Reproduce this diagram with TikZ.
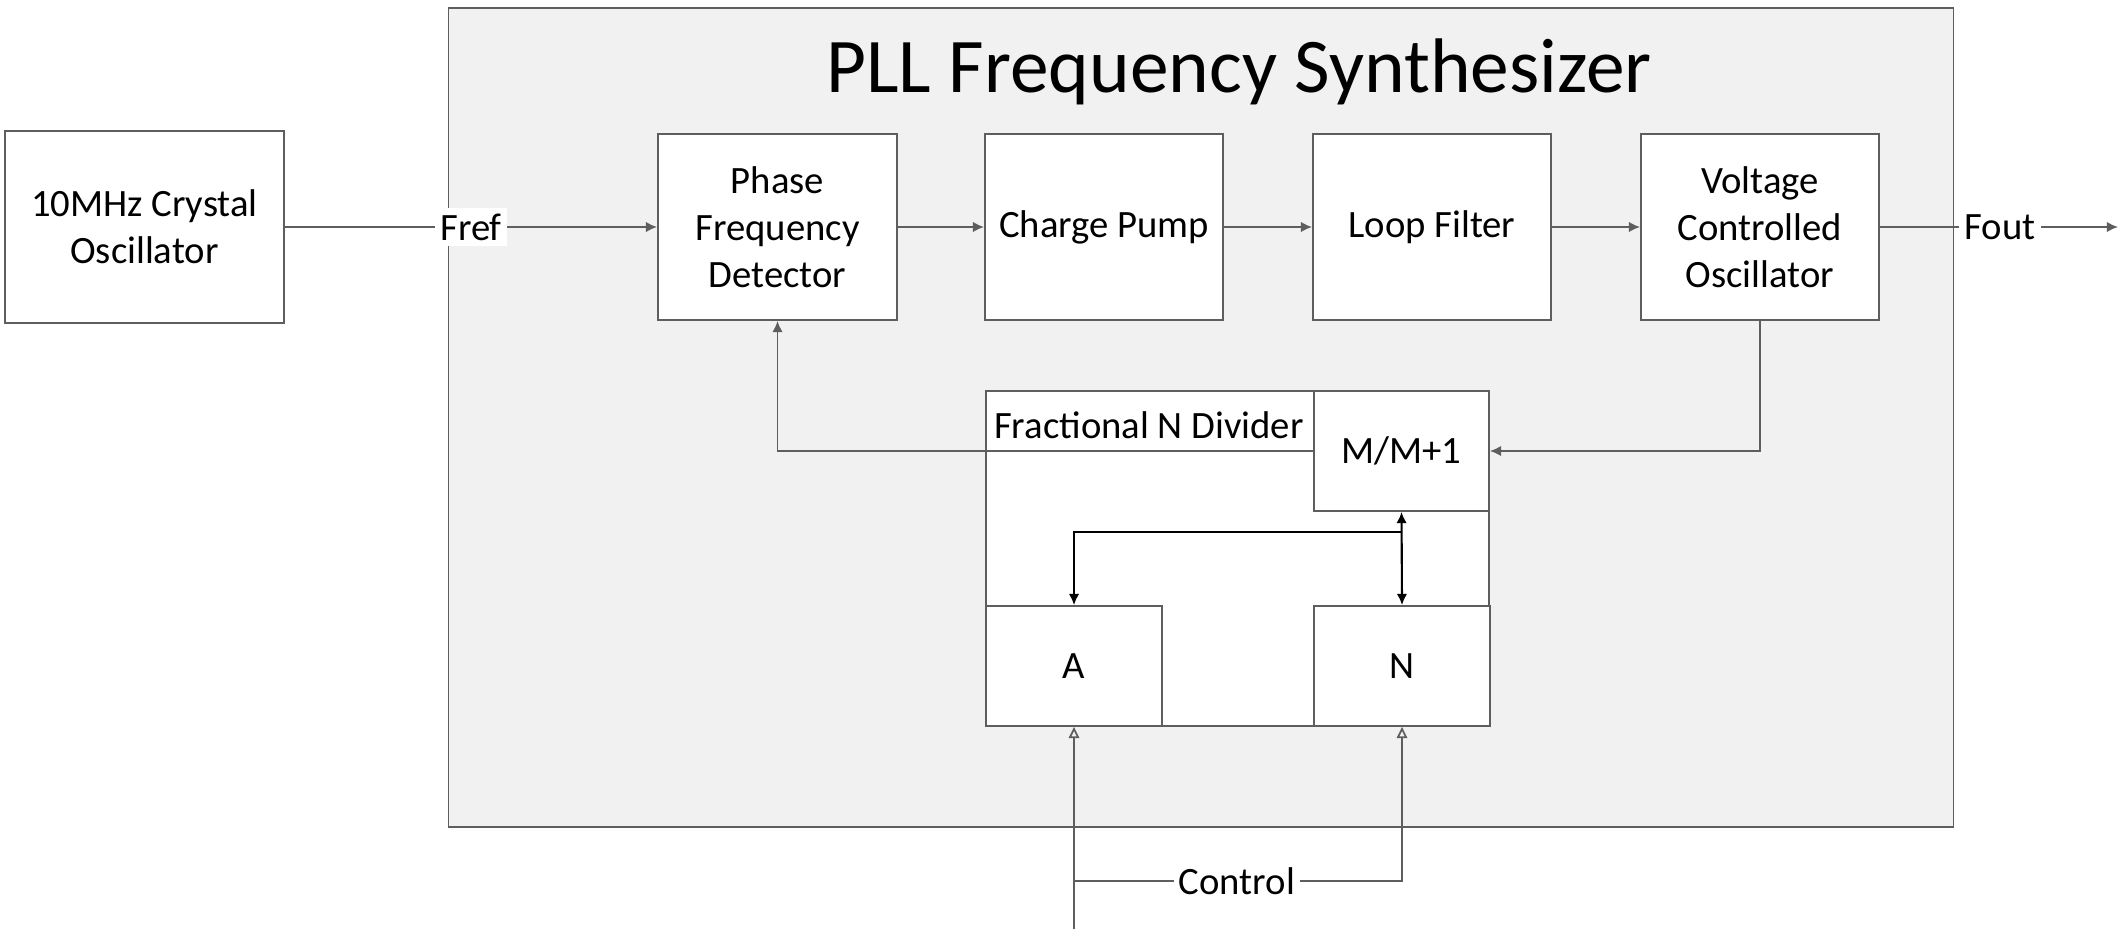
\documentclass[tikz,border=0pt]{standalone}
\usepackage{fontspec}
\setmainfont{Carlito}
\usetikzlibrary{arrows.meta}
\definecolor{linegray}{HTML}{5E5E5E}
\definecolor{panelgray}{HTML}{F1F1F1}
\tikzset{
  blk/.style={draw=linegray, fill=white, line width=0.5pt, align=center,
    font=\fontsize{11}{13.4}\selectfont, inner sep=0pt},
  conn/.style={draw=linegray, line width=0.5pt},
  arr/.style={conn, -{Latex[length=3.2pt,width=3pt]}},
  darr/.style={draw=black, line width=0.6pt, {Latex[length=3.2pt,width=3pt]}-{Latex[length=3.2pt,width=3pt]}},
  barr/.style={draw=black, line width=0.6pt, -{Latex[length=3.2pt,width=3pt]}},
  oarr/.style={conn, -{Triangle[open,length=3.2pt,width=3pt]}},
  lbl/.style={font=\fontsize{11}{13.4}\selectfont, inner sep=1.5pt, fill=white},
}
\begin{document}
\begin{tikzpicture}[x=0.01cm, y=-0.01cm]
\useasboundingbox (0,0) rectangle (2125,930);
% panel
\node[draw=linegray, fill=panelgray, line width=0.5pt, minimum width=15.04cm, minimum height=8.19cm, inner sep=0pt] (panel) at (1201,417.5) {};
\node[font=\fontsize{22}{26}\selectfont, anchor=base, inner sep=0pt] (title) at (1239,92) {PLL Frequency Synthesizer};
% blocks
\node[blk, minimum width=2.79cm, minimum height=1.92cm] (xo) at (144.5,227) {10MHz Crystal\\Oscillator};
\node[blk, minimum width=2.39cm, minimum height=1.86cm] (pfd) at (777.5,227) {Phase\\Frequency\\Detector};
\node[blk, minimum width=2.38cm, minimum height=1.86cm] (cp) at (1104,227) {Charge Pump};
\node[blk, minimum width=2.38cm, minimum height=1.86cm] (lf) at (1432,227) {Loop Filter};
\node[blk, minimum width=2.38cm, minimum height=1.86cm] (vco) at (1760,227) {Voltage\\Controlled\\Oscillator};
% fractional divider
\node[blk, minimum width=5.03cm, minimum height=3.35cm] (frac) at (1237.5,558.5) {};
\node[font=\fontsize{11}{13.4}\selectfont, anchor=north west, inner sep=0pt] (fraclbl) at ([xshift=6\pgflinewidth,yshift=-0.21cm]frac.north west) {Fractional N Divider};
\node[blk, minimum width=1.75cm, minimum height=1.20cm] (mm) at (1401.5,451) {M/M+1};
\node[blk, minimum width=1.76cm, minimum height=1.20cm] (a) at (1074,666) {A};
\node[blk, minimum width=1.76cm, minimum height=1.20cm] (n) at (1402,666) {N};
% main chain
\draw[arr] (xo.east) -- (pfd.west);
\node[lbl] (fref) at (471,227) {Fref};
\draw[arr] (pfd) -- (cp);
\draw[arr] (cp) -- (lf);
\draw[arr] (lf) -- (vco);
\coordinate (out) at (2118,227);
\draw[arr] (vco.east) -- (out);
\node[lbl] (fout) at (2000,227) {Fout};
% feedback
\draw[arr] (vco.south) |- (mm.east);
\draw[arr] (mm.west) -| (pfd.south);
% internal divider connections
\coordinate (j) at (1402,532);
\draw[darr] (mm.south) -- (n.north);
\draw[barr] (j) -| (a.north);
% control
\coordinate (cbot) at (1074,929);
\coordinate (csplit) at (1074,881);
\draw[oarr] (cbot) -- (a.south);
\draw[oarr] (csplit) -| (n.south);
\node[lbl] (ctrl) at (1237,881) {Control};
\end{tikzpicture}
\end{document}
